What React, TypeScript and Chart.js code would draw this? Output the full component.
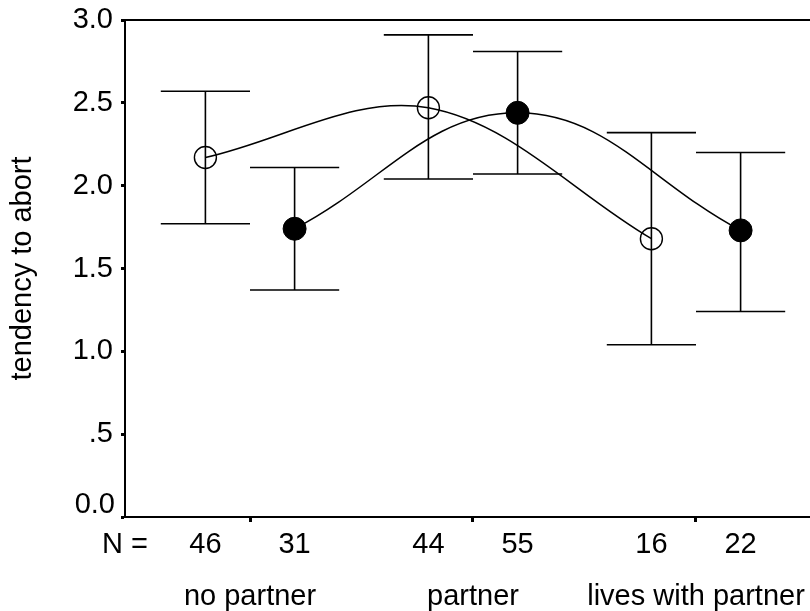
import React, { useEffect, useRef } from 'react';
import { Chart, registerables } from 'chart.js';

Chart.register(...registerables);

// ---- data ----
const categories = ['no partner', 'partner', 'lives with partner'];
const countsOpen = [46, 44, 16];
const countsFilled = [31, 55, 22];
const meanOpen = [2.17, 2.47, 1.68];
const upperOpen = [2.57, 2.91, 2.32];
const lowerOpen = [1.77, 2.04, 1.04];
const meanFilled = [1.74, 2.44, 1.73];
const upperFilled = [2.11, 2.81, 2.2];
const lowerFilled = [1.37, 2.07, 1.24];
const yTicks = [0, 0.5, 1, 1.5, 2, 2.5, 3];
const yTickLabels = ['0.0', '.5', '1.0', '1.5', '2.0', '2.5', '3.0'];
const yTitle = 'tendency to abort';
const nLabel = 'N =';

// layout constants (category units)
const OFFSET = 0.2;
const CAP = 0.2;
const FONT = '"Liberation Sans", Arial, Helvetica, sans-serif';
const FS = 29;

const zeroPadding = (scale: any) => {
  scale.paddingTop = 0;
  scale.paddingBottom = 0;
  scale.paddingLeft = 0;
  scale.paddingRight = 0;
};

const errorBarPlugin = {
  id: 'errorBars',
  beforeDatasetsDraw(chart: any) {
    const { ctx, scales } = chart;
    const x = scales.x;
    const y = scales.y;
    ctx.save();
    ctx.strokeStyle = '#000';
    ctx.lineWidth = 1.6;
    const series = [
      { off: -OFFSET, lo: lowerOpen, hi: upperOpen },
      { off: OFFSET, lo: lowerFilled, hi: upperFilled },
    ];
    series.forEach((s) => {
      categories.forEach((_, i) => {
        const xc = x.getPixelForValue(i + s.off);
        const xl = x.getPixelForValue(i + s.off - CAP);
        const xr = x.getPixelForValue(i + s.off + CAP);
        const yl = y.getPixelForValue(s.lo[i]);
        const yh = y.getPixelForValue(s.hi[i]);
        ctx.beginPath();
        ctx.moveTo(xc, yl);
        ctx.lineTo(xc, yh);
        ctx.moveTo(xl, yl);
        ctx.lineTo(xr, yl);
        ctx.moveTo(xl, yh);
        ctx.lineTo(xr, yh);
        ctx.stroke();
      });
    });
    ctx.restore();
  },
};

const decorPlugin = {
  id: 'decor',
  afterDraw(chart: any) {
    const { ctx, scales, chartArea } = chart;
    const x = scales.x;
    const y = scales.y;
    ctx.save();
    // top frame line
    ctx.strokeStyle = '#000';
    ctx.lineWidth = 2;
    ctx.beginPath();
    ctx.moveTo(chartArea.left - 1, chartArea.top);
    ctx.lineTo(chartArea.right, chartArea.top);
    ctx.stroke();

    ctx.fillStyle = '#000';
    ctx.font = `${FS}px ${FONT}`;
    ctx.textBaseline = 'alphabetic';

    // 0.0 label sits above the corner
    ctx.textAlign = 'right';
    ctx.fillText(yTickLabels[0], chartArea.left - 10, y.getPixelForValue(0) - 4);

    // N row
    const row1 = chartArea.bottom + 36;
    const row2 = chartArea.bottom + 88;
    ctx.textAlign = 'left';
    ctx.fillText(nLabel, chartArea.left - 23, row1);
    ctx.textAlign = 'center';
    categories.forEach((c, i) => {
      ctx.fillText(String(countsOpen[i]), x.getPixelForValue(i - OFFSET), row1);
      ctx.fillText(String(countsFilled[i]), x.getPixelForValue(i + OFFSET), row1);
      ctx.fillText(c, x.getPixelForValue(i), row2);
    });
    ctx.restore();
  },
};

export default function App() {
  const ref = useRef<HTMLCanvasElement>(null);
  useEffect(() => {
    const chart = new Chart(ref.current as HTMLCanvasElement, {
      type: 'line',
      data: {
        datasets: [
          {
            data: meanOpen.map((v, i) => ({ x: i - OFFSET, y: v })),
            borderColor: '#000',
            borderWidth: 1.5,
            tension: 0.35,
            fill: false,
            pointRadius: 11,
            pointBorderWidth: 1.4,
            pointBorderColor: '#000',
            pointBackgroundColor: 'rgba(0,0,0,0)',
          },
          {
            data: meanFilled.map((v, i) => ({ x: i + OFFSET, y: v })),
            borderColor: '#000',
            borderWidth: 1.5,
            tension: 0.4,
            fill: false,
            pointRadius: 11.5,
            pointBorderWidth: 1,
            pointBorderColor: '#000',
            pointBackgroundColor: '#000',
          },
        ],
      },
      options: {
        animation: false,
        responsive: false,
        devicePixelRatio: 1,
        layout: { autoPadding: false, padding: { top: 20, left: 0, right: 0, bottom: 0 } },
        plugins: {
          legend: { display: false },
          tooltip: { enabled: false },
        },
        scales: {
          x: {
            type: 'linear',
            min: -125 / 223,
            max: (810 - 250) / 223,
            afterBuildTicks: (scale: any) => {
              scale.ticks = categories.map((_, i) => ({ value: i }));
            },
            afterFit: (scale: any) => {
              scale.height = 94;
              zeroPadding(scale);
            },
            ticks: { display: false },
            grid: {
              display: true,
              drawOnChartArea: false,
              drawTicks: true,
              tickLength: 5,
              tickWidth: 3,
              tickColor: '#000',
              color: '#000',
            },
            border: { display: true, color: '#000', width: 2 },
          },
          y: {
            min: 0,
            max: 3,
            afterBuildTicks: (scale: any) => {
              scale.ticks = yTicks.map((v) => ({ value: v }));
            },
            afterFit: (scale: any) => {
              scale.width = 125;
              zeroPadding(scale);
            },
            ticks: {
              padding: 8,
              color: (c: any) => (c.tick && c.tick.value === 0 ? 'rgba(0,0,0,0)' : '#000'),
              font: { family: FONT, size: FS },
              callback: (v: any) => {
                const k = yTicks.indexOf(Number(v));
                return k >= 0 ? yTickLabels[k] : '';
              },
            },
            grid: {
              display: true,
              drawOnChartArea: false,
              drawTicks: true,
              tickLength: 4,
              tickWidth: 3,
              tickColor: '#000',
              color: '#000',
            },
            border: { display: true, color: '#000', width: 2 },
            title: {
              display: true,
              text: yTitle,
              color: '#000',
              font: { family: FONT, size: FS, weight: 'normal' },
              padding: { top: 6, bottom: 0 },
            },
          },
        },
      } as any,
      plugins: [errorBarPlugin, decorPlugin],
    });
    return () => chart.destroy();
  }, []);
  return (
    <div style={{ position: 'fixed', left: 0, top: 0, width: 810, height: 611, background: '#fff' }}>
      <canvas ref={ref} width={810} height={611} style={{ display: 'block' }} />
    </div>
  );
}
